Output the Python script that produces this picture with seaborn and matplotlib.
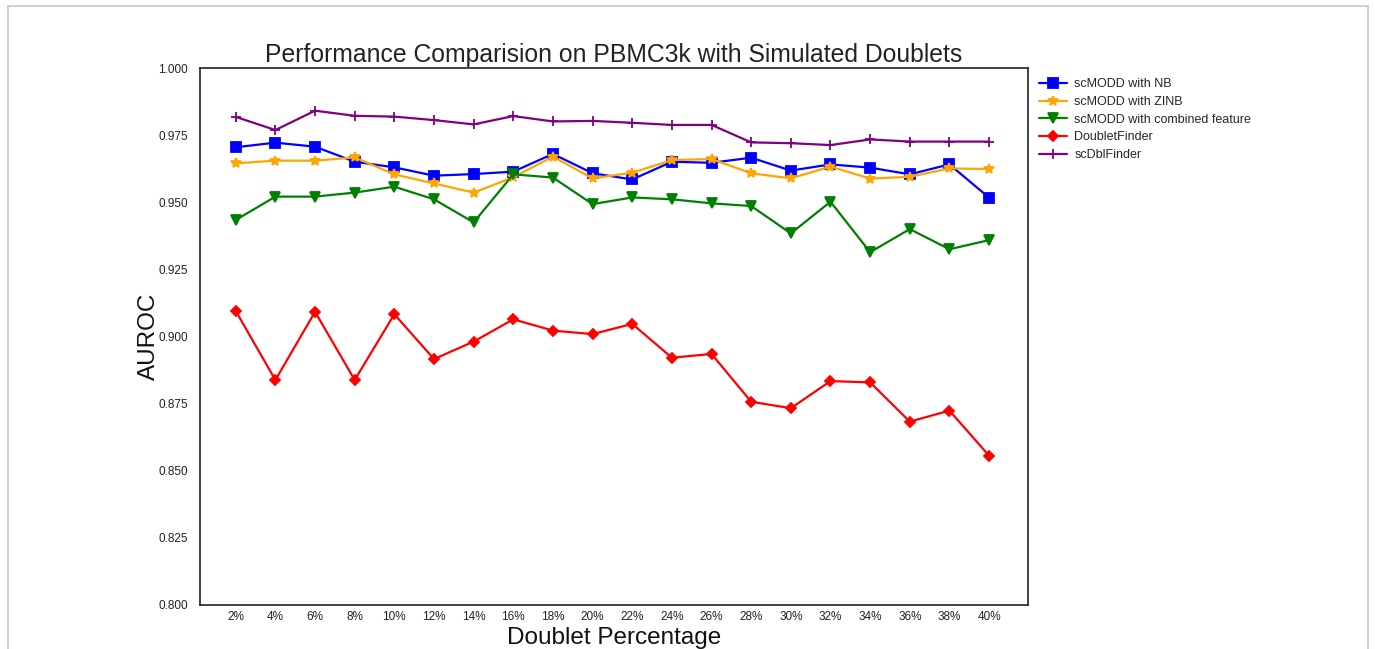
import matplotlib
matplotlib.use("Agg")
import matplotlib.pyplot as plt
from matplotlib.patches import Rectangle
import pandas as pd
import seaborn as sns

# Datos
percentages = ["2%", "4%", "6%", "8%", "10%", "12%", "14%", "16%", "18%", "20%",
               "22%", "24%", "26%", "28%", "30%", "32%", "34%", "36%", "38%", "40%"]

scmodd_nb = [0.9705, 0.9722, 0.9707, 0.9651, 0.9630, 0.9599, 0.9605, 0.9614, 0.9680, 0.9608,
             0.9585, 0.9651, 0.9647, 0.9666, 0.9618, 0.9641, 0.9629, 0.9604, 0.9641, 0.9517]
scmodd_zinb = [0.9645, 0.9655, 0.9655, 0.9667, 0.9604, 0.9570, 0.9536, 0.9593, 0.9670, 0.9589,
               0.9610, 0.9657, 0.9661, 0.9608, 0.9589, 0.9633, 0.9588, 0.9595, 0.9626, 0.9624]
scmodd_combined = [0.9434, 0.9521, 0.9521, 0.9536, 0.9558, 0.9511, 0.9425, 0.9604, 0.9592, 0.9493,
                   0.9518, 0.9511, 0.9496, 0.9486, 0.9384, 0.9502, 0.9314, 0.9400, 0.9325, 0.9359]
doubletfinder = [0.9095, 0.8838, 0.9092, 0.8838, 0.9083, 0.8916, 0.8981, 0.9064, 0.9022, 0.9009,
                 0.9047, 0.8921, 0.8935, 0.8757, 0.8733, 0.8834, 0.8829, 0.8683, 0.8724, 0.8556]
scdblfinder = [0.9818, 0.9769, 0.9841, 0.9822, 0.9819, 0.9806, 0.9790, 0.9821, 0.9801, 0.9803,
               0.9796, 0.9788, 0.9788, 0.9723, 0.9720, 0.9713, 0.9734, 0.9726, 0.9726, 0.9726]

methods = ["scMODD with NB", "scMODD with ZINB", "scMODD with combined feature",
           "DoubletFinder", "scDblFinder"]
series = [scmodd_nb, scmodd_zinb, scmodd_combined, doubletfinder, scdblfinder]
colors = ["blue", "orange", "green", "red", "purple"]
markers = ["s", "*", "v", "D", "+"]
msizes = [6.5, 7.5, 6.5, 5.5, 7.5]

sns.set_style("white")
plt.rcParams["font.family"] = ["Liberation Sans", "DejaVu Sans"]

fig = plt.figure(figsize=(13.75, 6.49), dpi=100)
ax = fig.add_axes([0.1455, 0.0678, 0.6021, 0.8274])

for name, vals, c, m, ms in zip(methods, series, colors, markers, msizes):
    df = pd.DataFrame({"x": range(len(percentages)), "AUROC": vals})
    sns.lineplot(data=df, x="x", y="AUROC", ax=ax, color=c, marker=m,
                 markersize=ms, markeredgecolor=c, markeredgewidth=1.3,
                 linewidth=1.6, label=name)

ax.set_xlim(-0.9, 19.98)
ax.set_ylim(0.8, 1.0)
ax.set_xticks(range(len(percentages)))
ax.set_xticklabels(percentages, fontsize=8.5, color="#222222")
ax.set_yticks([0.800, 0.825, 0.850, 0.875, 0.900, 0.925, 0.950, 0.975, 1.000])
ax.set_yticklabels([f"{v:.3f}" for v in ax.get_yticks()], fontsize=8.5, color="#222222")
ax.tick_params(axis="y", pad=5)
ax.tick_params(axis="x", pad=1)
for sp in ax.spines.values():
    sp.set_color("#222222")
    sp.set_linewidth(1.2)

ax.set_title("Performance Comparision on PBMC3k with Simulated Doublets",
             fontsize=17.8, color="#222222", pad=4)
ax.set_xlabel("Doublet Percentage", fontsize=17.5, color="#111111", labelpad=2.5)
ax.set_ylabel("AUROC", fontsize=17.5, color="#111111", labelpad=-1)

ax.legend(loc="upper left", bbox_to_anchor=(1.003, 0.997), frameon=False,
          fontsize=9, handlelength=2.2, handletextpad=0.6,
          labelspacing=0.45, borderaxespad=0.3)

# marco gris alrededor de la figura
fig.patches.append(Rectangle((0.0058, -0.1), 0.9891, 1.0908, transform=fig.transFigure,
                             fill=False, edgecolor="#d0d0d0", linewidth=1.5))

fig.savefig("out.png", dpi=100)
